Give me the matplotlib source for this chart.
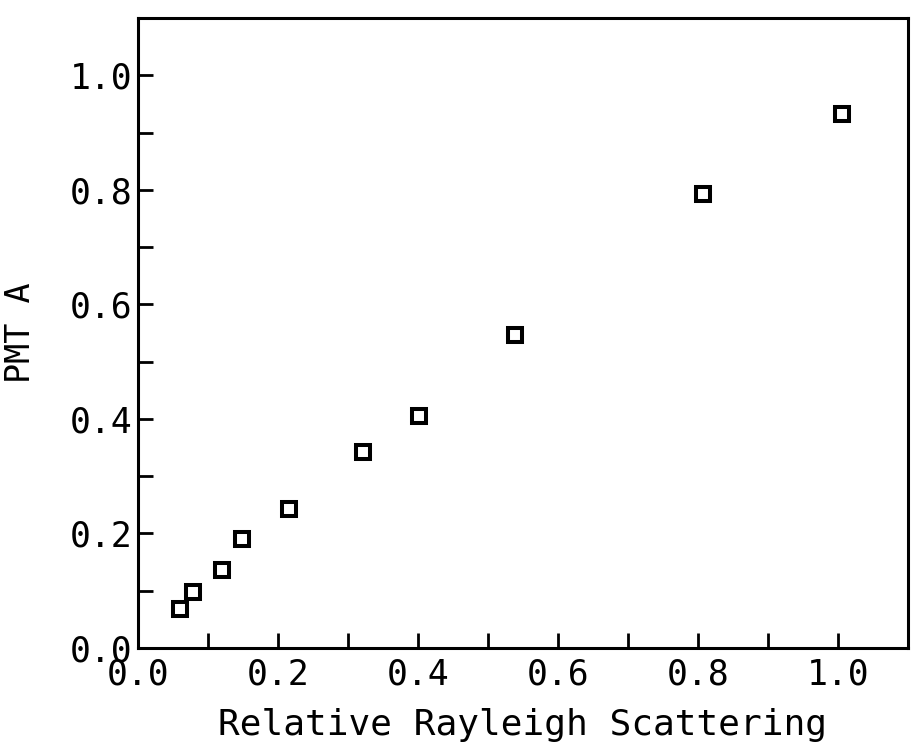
import matplotlib
matplotlib.use("Agg")
import matplotlib.pyplot as plt
from matplotlib.ticker import MultipleLocator, FormatStrFormatter

# data
rayleigh = [0.060, 0.079, 0.120, 0.149, 0.216, 0.321, 0.401, 0.539, 0.807, 1.006]
pmt_a = [0.068, 0.098, 0.136, 0.190, 0.243, 0.342, 0.405, 0.546, 0.792, 0.932]

plt.rcParams.update({'font.family': 'DejaVu Sans Mono'})

fig = plt.figure(figsize=(9.12, 7.5), dpi=100)
ax = fig.add_axes([0.1513, 0.136, 0.8443, 0.840])

ax.plot(rayleigh, pmt_a, linestyle='none', marker='s', markersize=10.5,
        markerfacecolor='white', markeredgecolor='black', markeredgewidth=2.9)

ax.set_xlim(0, 1.1)
ax.set_ylim(0, 1.1)

ax.xaxis.set_major_locator(MultipleLocator(0.2))
ax.xaxis.set_minor_locator(MultipleLocator(0.1))
ax.yaxis.set_major_locator(MultipleLocator(0.2))
ax.yaxis.set_minor_locator(MultipleLocator(0.1))
ax.xaxis.set_major_formatter(FormatStrFormatter('%.1f'))
ax.yaxis.set_major_formatter(FormatStrFormatter('%.1f'))

ax.tick_params(which='both', direction='in', length=11, width=2,
               top=False, right=False, labelsize=25)
ax.tick_params(axis='x', pad=7)
ax.tick_params(axis='y', pad=4)

for sp in ax.spines.values():
    sp.set_linewidth(2.2)

ax.set_xlabel('Relative Rayleigh Scattering', fontsize=26, labelpad=12)
ax.set_ylabel('PMT A', fontsize=24)
ax.yaxis.set_label_coords(-0.131, 0.5)

fig.savefig('out.png', dpi=100)
